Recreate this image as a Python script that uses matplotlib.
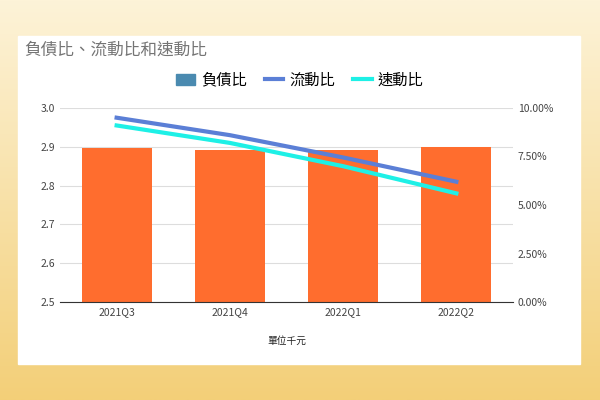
import matplotlib.pyplot as plt
import numpy as np
from matplotlib.ticker import PercentFormatter
from matplotlib.lines import Line2D
from matplotlib.patches import Patch

plt.rcParams['font.family'] = ['Noto Sans CJK TC', 'DejaVu Sans']

quarters = ['2021Q3', '2021Q4', '2022Q1', '2022Q2']
debt_ratio = [2.897, 2.892, 2.892, 2.900]
current_ratio = [9.5, 8.6, 7.45, 6.2]
quick_ratio = [9.1, 8.2, 7.0, 5.6]

fig = plt.figure(figsize=(6, 4), dpi=100)
# gradient frame
grad = np.linspace(0, 1, 256).reshape(-1, 1)
bg = fig.add_axes([0, 0, 1, 1])
bg.imshow(grad, aspect='auto', cmap=plt.matplotlib.colors.LinearSegmentedColormap.from_list('g', ['#fdf3d8', '#f3cf78']), extent=[0, 1, 0, 1], origin='upper')
bg.add_patch(plt.Rectangle((0.03, 0.09), 0.937, 0.82, color='white', transform=bg.transAxes))
bg.axis('off')

fig.text(0.04, 0.875, '負債比、流動比和速動比', fontsize=12, color='#757575', va='center')

ax = fig.add_axes([0.1, 0.245, 0.755, 0.485])
x = np.arange(len(quarters))
ax.bar(x, debt_ratio, width=0.62, color='#ff6d2e', zorder=2)
ax.set_ylim(2.5, 3.0)
ax.set_yticks([2.5, 2.6, 2.7, 2.8, 2.9, 3.0])
ax.set_xlim(-0.5, 3.5)
ax.set_xticks(x)
ax.set_xticklabels(quarters)
ax.grid(axis='y', color='#dddddd', lw=0.8, zorder=0)
for s in ax.spines.values():
    s.set_visible(False)
ax.spines['bottom'].set_visible(True)
ax.spines['bottom'].set_color('#333333')
ax.tick_params(length=0, labelsize=7.5, colors='#444444')
ax.set_xlabel('單位千元', fontsize=7, color='#222222', labelpad=14)

ax2 = ax.twinx()
ax2.plot(x, current_ratio, color='#5b7fd6', lw=3)
ax2.plot(x, quick_ratio, color='#1ef0e6', lw=3)
ax2.set_ylim(0, 10)
ax2.set_yticks([0, 2.5, 5, 7.5, 10])
ax2.yaxis.set_major_formatter(PercentFormatter(decimals=2))
for s in ax2.spines.values():
    s.set_visible(False)
ax2.tick_params(length=0, labelsize=7.5, colors='#444444')

handles = [Patch(color='#4a8ab0'), Line2D([], [], color='#5b7fd6', lw=3), Line2D([], [], color='#1ef0e6', lw=3)]
fig.legend(handles, ['負債比', '流動比', '速動比'], loc='center', bbox_to_anchor=(0.5, 0.8),
           ncol=3, frameon=False, fontsize=11, handlelength=1.2, columnspacing=1.2, handletextpad=0.4)

fig.savefig('out.png', dpi=100)
